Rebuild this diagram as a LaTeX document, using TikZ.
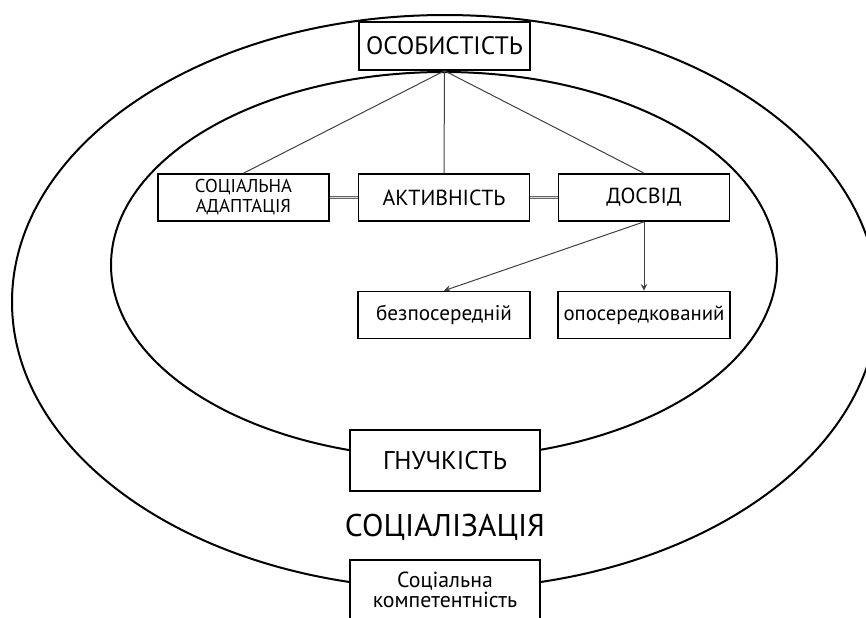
\documentclass[tikz,border=0pt]{standalone}
\usepackage{fontspec}
\setmainfont{PT Sans}
\usepackage{tikz}
\tikzstyle{Box}=[draw, fill=white, line width=0.8pt, inner sep=0pt, align=center]
\tikzstyle{Small}=[minimum width=85.5pt, minimum height=23.5pt]
\tikzstyle{Wide}=[minimum width=95pt, minimum height=30.5pt]
\tikzstyle{Ring}=[line width=1pt]
\tikzstyle{Line}=[draw=black!75, line width=0.5pt]
\tikzstyle{Arrow}=[-stealth, draw=black!75, line width=0.5pt]
\tikzstyle{Link}=[draw=black!60, line width=0.4pt, double=black!15, double distance=0.6pt]

\begin{document}
\begin{tikzpicture}[x=0.5pt, y=-0.5pt]

    \clip (0, 0) rectangle (866, 617);

    % the two rings
    \draw[Ring] (445, 302) ellipse [x radius=433, y radius=287];
    \draw[Ring] (444, 265) ellipse [x radius=333, y radius=193];

    \node[Box,Small,minimum height=24pt,font=\fontsize{12.6}{15}\selectfont] (oso) at (444.5, 46) {ОСОБИСТІСТЬ};

    \node[Box,Small,font=\fontsize{9.3}{10}\selectfont] (soc) at (243.5, 197.5) {СОЦІАЛЬНА\\АДАПТАЦІЯ};
    \node[Box,Small,font=\fontsize{10.9}{13}\selectfont] (akt) at (444, 197.5) {АКТИВНІСТЬ};
    \node[Box,Small,font=\fontsize{10.9}{13}\selectfont] (dos) at (644, 197.5) {ДОСВІД};

    \node[Box,Small,minimum width=86pt,font=\fontsize{10.6}{13}\selectfont] (bez) at (444, 315) {безпосередній};
    \node[Box,Small,minimum width=86pt,font=\fontsize{10.4}{13}\selectfont] (opo) at (644, 315) {опосередкований};

    \node[Box,Wide,font=\fontsize{12.8}{14}\selectfont] (hnu) at (445, 460.5) {ГНУЧКІСТЬ};
    \node[font=\fontsize{15.7}{17}\selectfont] (sot) at (445, 527) {СОЦІАЛІЗАЦІЯ};
    \node[Box,Wide,minimum height=30pt,font=\fontsize{10.9}{8.6}\selectfont] (kom) at (445, 590) {Соціальна\\компетентність};

    \draw[Line] (oso.south) to (soc.north);
    \draw[Line] (oso.south) to (akt.north);
    \draw[Line] (oso.south) to (dos.north);

    \draw[Link] (soc) to (akt);
    \draw[Link] (akt) to (dos);

    \draw[Arrow] (dos.south) to (bez.north);
    \draw[Arrow] (dos.south) to (opo.north);

\end{tikzpicture}
\end{document}
